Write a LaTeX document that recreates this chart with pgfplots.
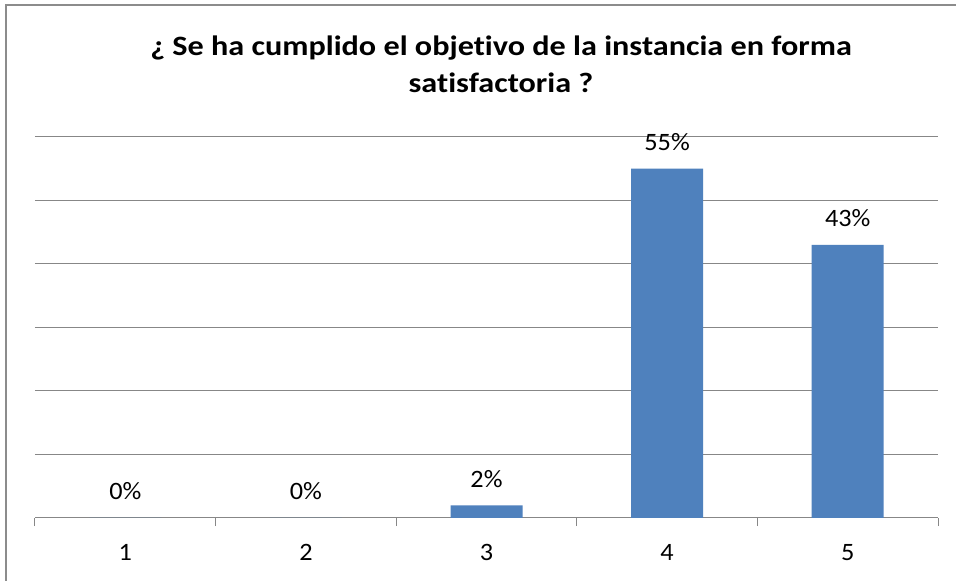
\documentclass[border=0pt]{standalone}
\usepackage{fontspec}
\setmainfont{Carlito}[Ligatures={NoCommon,NoContextual}]
\newfontfamily\titlefont[FakeStretch=1.15, Ligatures={NoCommon,NoContextual}]{Carlito}
\newfontfamily\labelfont[FakeStretch=1.05, Ligatures={NoCommon,NoContextual}]{Carlito}
\usepackage{pgfplots}
\pgfplotsset{compat=1.18}
\definecolor{barblue}{HTML}{4F81BD}
\definecolor{gridgray}{HTML}{878787}
\definecolor{framegray}{HTML}{8C8C8C}
\begin{document}
\begin{tikzpicture}
\useasboundingbox (0,0) rectangle (956pt,581pt);
\fill[white] (0,0) rectangle (956pt,581pt);
\draw[framegray, line width=2pt] (5.5pt,0) -- (5.5pt,575.5pt) -- (956pt,575.5pt);
\node[anchor=base, font=\titlefont\fontsize{28}{32}\selectfont\bfseries] at (501pt,525pt) {¿ Se ha cumplido el objetivo de la instancia en forma};
\node[anchor=base, font=\titlefont\fontsize{28}{32}\selectfont\bfseries] at (501pt,488pt) {satisfactoria ?};
\begin{axis}[
  at={(35pt,63pt)}, anchor=south west,
  scale only axis, width=903pt, height=381pt,
  xmin=0.5, xmax=5.5, ymin=0, ymax=60,
  axis line style={draw=none},
  ytick={0,10,...,60}, yticklabels={}, ymajorgrids,
  major grid style={gridgray, line width=1pt},
  ytick style={draw=none},
  xtick={1,2,3,4,5}, xticklabels={1,2,3,4,5},
  minor xtick={0.5,1.5,...,5.5},
  tick align=outside, xtick pos=left,
  major tick length=0pt, minor tick length=8pt,
  minor x tick style={gridgray, line width=1pt},
  xticklabel style={anchor=base, yshift=-43pt, font=\labelfont\fontsize{25}{29}\selectfont},
  ybar, bar width=72pt,
  nodes near coords={\pgfmathprintnumber{\pgfplotspointmeta}\%},
  /pgf/number format/assume math mode=true,
  every node near coord/.append style={anchor=base, yshift=18pt, font=\labelfont\fontsize{25}{29}\selectfont, text=black},
  clip=false,
]
\addplot[fill=barblue, draw=none] coordinates {(1,0) (2,0) (3,2) (4,55) (5,43)};
\end{axis}
\end{tikzpicture}
\end{document}
